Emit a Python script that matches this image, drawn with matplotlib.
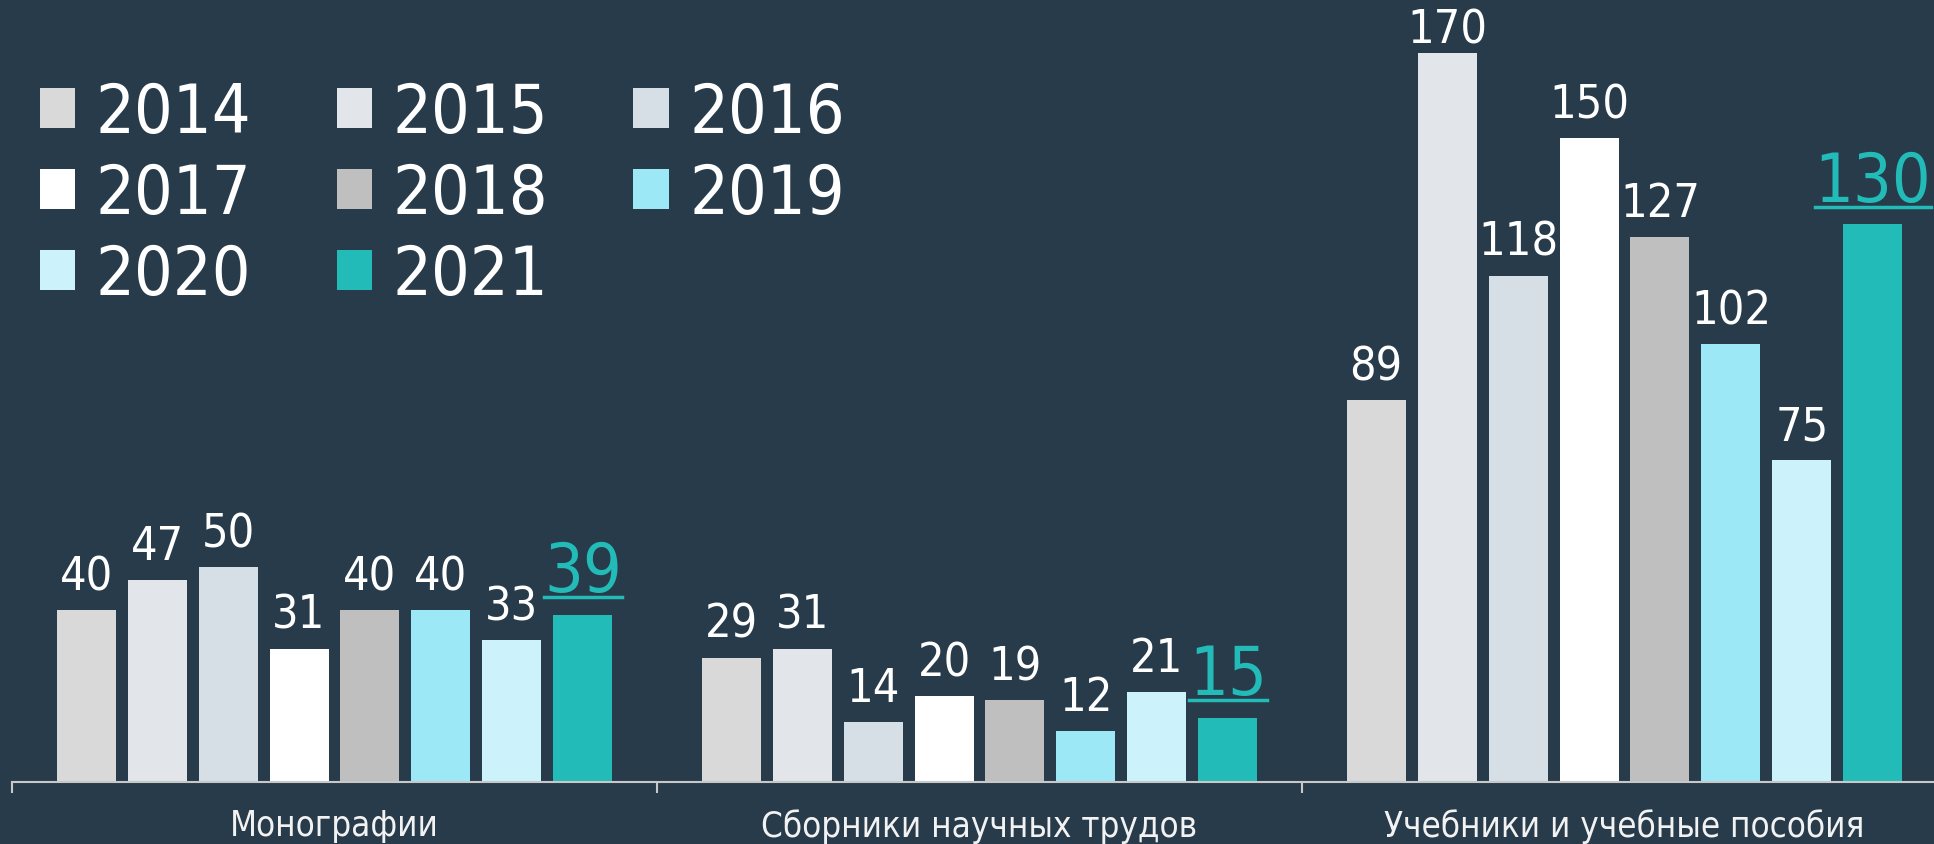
import matplotlib
matplotlib.use("Agg")
import matplotlib.pyplot as plt
from matplotlib.lines import Line2D
import numpy as np

categories = ["Монографии", "Сборники научных трудов", "Учебники и учебные пособия"]
years = ["2014", "2015", "2016", "2017", "2018", "2019", "2020", "2021"]
values = {
    "2014": [40, 29, 89],
    "2015": [47, 31, 170],
    "2016": [50, 14, 118],
    "2017": [31, 20, 150],
    "2018": [40, 19, 127],
    "2019": [40, 12, 102],
    "2020": [33, 21, 75],
    "2021": [39, 15, 130],
}
colors = ["#d9d9d9", "#e2e6ea", "#d6dee6", "#ffffff",
          "#bfbfbf", "#9ce8f7", "#ccf3fb", "#22bbb7"]

BG = "#273b4b"
TEAL = "#22bbb7"
AXIS = "#c8c8c8"

plt.rcParams['font.family'] = ['DejaVu Sans']
plt.rcParams['font.stretch'] = 'condensed'

W, H = 1934, 845
fig = plt.figure(figsize=(W / 100, H / 100), dpi=100, facecolor=BG)
ax = fig.add_axes([12 / W, 62 / H, 1935 / W, 783 / H])
ax.set_facecolor(BG)

ax.set_xlim(-0.5, 2.5)
ax.set_ylim(0, 182.5)

x = np.arange(len(categories))
pitch = 0.110
width = 0.0915
px_per_unit = 783 / 182.5

handles = []
last_texts = []
for i, yr in enumerate(years):
    pos = x + (i - 3.5) * pitch
    b = ax.bar(pos, values[yr], width, color=colors[i], label=yr, zorder=2)
    handles.append(b)
    for px, v in zip(pos, values[yr]):
        if yr == years[-1]:
            t = ax.annotate(str(v), (px, v), xytext=(0, 17), textcoords="offset points",
                            ha="center", va="baseline", color=TEAL, fontsize=49)
            last_texts.append(t)
        else:
            # keep labels of tall bars inside the figure
            room = (783 - v * px_per_unit) - 44
            off = min(21, max(room, 8)) * 0.72
            ax.annotate(str(v), (px, v), xytext=(0, off), textcoords="offset points",
                        ha="center", va="baseline", color="white", fontsize=33.5)

for s in ["top", "left", "right"]:
    ax.spines[s].set_visible(False)
ax.spines["bottom"].set_color(AXIS)
ax.spines["bottom"].set_linewidth(1.5)
ax.set_yticks([])
ax.set_xticks([-0.5, 0.5, 1.5, 2.5])
ax.set_xticklabels([])
ax.tick_params(axis="x", which="major", length=8, width=1.5, color=AXIS, direction="out")
ax.set_xticks(x, minor=True)
ax.set_xticklabels(categories, minor=True)
ax.tick_params(axis="x", which="minor", length=0, pad=19, labelsize=25, labelcolor="#f2f2f2")

# legend filled row by row
order = [0, 3, 6, 1, 4, 7, 2, 5]
leg = ax.legend([handles[k] for k in order], [years[k] for k in order],
                loc="upper left", bbox_to_anchor=(40 / W, 1 - 81 / H),
                bbox_transform=fig.transFigure, ncol=3, frameon=False,
                fontsize=49, handlelength=0.52, handleheight=0.52,
                handletextpad=0.3, columnspacing=1.25, labelspacing=0.22,
                borderaxespad=0, borderpad=0)
for t in leg.get_texts():
    t.set_color("white")

# underline the 2021 labels
fig.canvas.draw()
r = fig.canvas.get_renderer()
for t in last_texts:
    bb = t.get_window_extent(r)
    base = ax.transData.transform(t.xy)[1] + 17 * 100 / 72 - 6
    ax.add_line(Line2D([bb.x0 / W, bb.x1 / W], [base / H, base / H],
                       transform=fig.transFigure, color=TEAL, lw=2.5,
                       clip_on=False))

fig.savefig("out.png", dpi=100, facecolor=BG)
